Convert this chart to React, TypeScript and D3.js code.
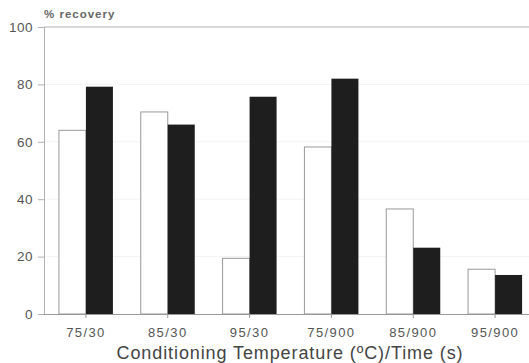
import React, { useEffect, useRef } from "react";
import * as d3 from "d3";

const categories = ["75/30", "85/30", "95/30", "75/900", "85/900", "95/900"];
const whiteValues = [64, 70.4, 19.4, 58.2, 36.6, 15.6];
const blackValues = [79.2, 66, 75.7, 82, 23.1, 13.6];
const yTicks = [0, 20, 40, 60, 80, 100];

const width = 529;
const height = 363;

function App() {
  const ref = useRef<SVGSVGElement | null>(null);

  useEffect(() => {
    const svg = d3.select(ref.current);
    svg.selectAll("*").remove();

    const x = d3.scaleBand().domain(categories).range([45, 536]);
    const y = d3.scaleLinear().domain([0, 100]).range([314, 27]);
    const barW = 27;

    // faint grid
    svg
      .append("g")
      .selectAll("line")
      .data(yTicks.filter((t) => t > 0 && t < 100))
      .enter()
      .append("line")
      .attr("x1", 44)
      .attr("x2", width)
      .attr("y1", (d) => y(d))
      .attr("y2", (d) => y(d))
      .attr("stroke", "#f3f3f3")
      .attr("stroke-width", 1);

    // top frame line
    svg.append("line").attr("x1", 44).attr("x2", width).attr("y1", y(100)).attr("y2", y(100))
      .attr("stroke", "#b0b0b0").attr("stroke-width", 1);

    // y axis
    const yAxis = svg
      .append("g")
      .attr("transform", "translate(44,0)")
      .call(d3.axisLeft(y).tickValues(yTicks).tickSize(6).tickPadding(5));
    yAxis.select(".domain").attr("stroke", "#b0b0b0");
    yAxis.selectAll(".tick line").attr("stroke", "#b0b0b0");
    yAxis.selectAll("text")
      .attr("font-family", "Liberation Sans, Arial, sans-serif")
      .attr("font-size", 13.5)
      .attr("letter-spacing", 0.5)
      .attr("fill", "#555");

    // bars
    const g = svg.append("g");
    g.selectAll(".w")
      .data(categories)
      .enter()
      .append("rect")
      .attr("x", (d) => x(d)! + x.bandwidth() / 2 - barW)
      .attr("y", (_, i) => y(whiteValues[i]))
      .attr("width", barW)
      .attr("height", (_, i) => y(0) - y(whiteValues[i]))
      .attr("fill", "#fff")
      .attr("stroke", "#999")
      .attr("stroke-width", 1);
    g.selectAll(".b")
      .data(categories)
      .enter()
      .append("rect")
      .attr("x", (d) => x(d)! + x.bandwidth() / 2)
      .attr("y", (_, i) => y(blackValues[i]))
      .attr("width", barW)
      .attr("height", (_, i) => y(0) - y(blackValues[i]))
      .attr("fill", "#1e1e1e");

    // x axis
    const xAxis = svg
      .append("g")
      .attr("transform", `translate(0,${y(0)})`)
      .call(d3.axisBottom(x).tickSize(4).tickPadding(10).tickSizeOuter(0));
    xAxis.select(".domain").attr("stroke", "#999").attr("d", `M44,0.5H${width}`);
    xAxis.selectAll(".tick line").attr("stroke", "#999");
    xAxis.selectAll("text")
      .attr("font-family", "Liberation Sans, Arial, sans-serif")
      .attr("font-size", 13)
      .attr("letter-spacing", 1.4)
      .attr("fill", "#555");

    svg.append("text")
      .attr("x", 44)
      .attr("y", 18)
      .attr("font-family", "Liberation Sans, Arial, sans-serif")
      .attr("font-size", 11.5)
      .attr("font-weight", "bold")
      .attr("letter-spacing", 1)
      .attr("fill", "#666")
      .text("% recovery");

    svg.append("text")
      .attr("x", 290)
      .attr("y", 359)
      .attr("text-anchor", "middle")
      .attr("font-family", "Liberation Sans, Arial, sans-serif")
      .attr("font-size", 18)
      .attr("letter-spacing", 0.9)
      .attr("fill", "#444")
      .text("Conditioning Temperature (ºC)/Time (s)");
  }, []);

  return (
    <svg
      ref={ref}
      width={width}
      height={height}
      style={{ position: "absolute", left: 0, top: 0, background: "#fff" }}
    />
  );
}

export default App;
